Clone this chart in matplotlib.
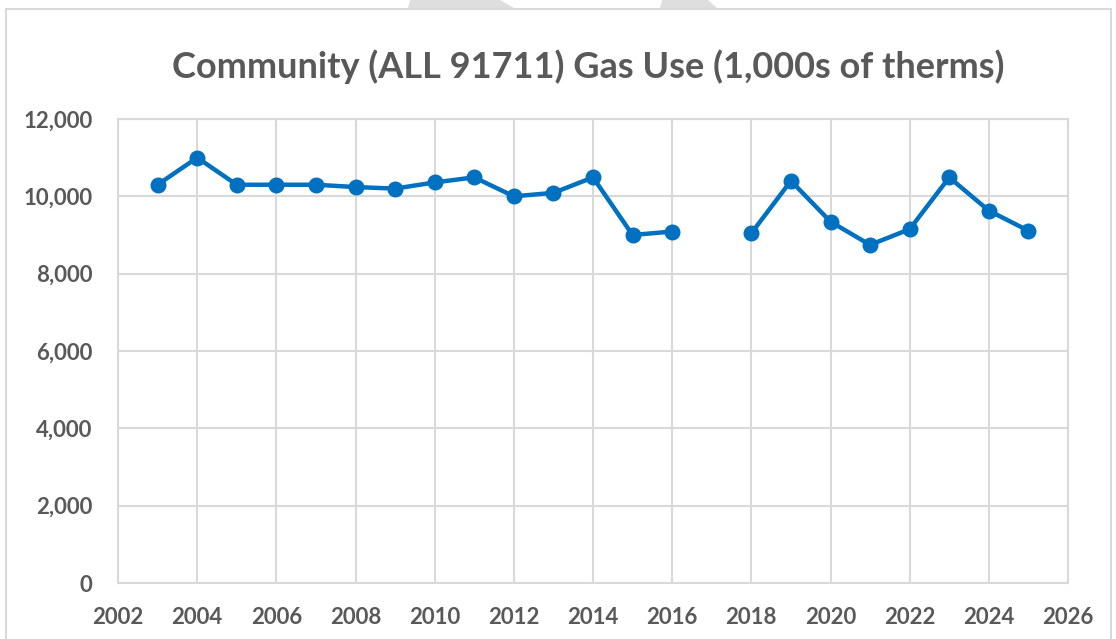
import matplotlib
matplotlib.use("Agg")
import matplotlib.pyplot as plt
from matplotlib.patches import Rectangle, Polygon
import matplotlib.ticker as mticker
import numpy as np

years_a = [2003, 2004, 2005, 2006, 2007, 2008, 2009, 2010, 2011, 2012, 2013, 2014, 2015, 2016]
use_a = [10300, 11000, 10300, 10300, 10300, 10240, 10200, 10360, 10490, 10000, 10090, 10490, 9000, 9090]
years_b = [2018, 2019, 2020, 2021, 2022, 2023, 2024, 2025]
use_b = [9045, 10400, 9345, 8745, 9150, 10490, 9630, 9110]

title = "Community (ALL 91711) Gas Use (1,000s of therms)"
x_ticks = list(range(2002, 2027, 2))
y_ticks = list(range(0, 12001, 2000))

plt.rcParams['font.family'] = ['Lato', 'DejaVu Sans']
text_color = '#595959'
grid_color = '#D9D9D9'
line_color = '#0070C0'

fig = plt.figure(figsize=(11.16, 6.39), dpi=100)
fig.patch.set_facecolor('white')

# faint watermark shapes at top
for pts in ([(410, 0), (500, 0), (514, 8), (408, 8)],
            [(662, 0), (708, 0), (717, 8), (660, 8)]):
    fig.patches.append(Polygon([(x/1116, 1 - y/639) for x, y in pts], closed=True,
                               transform=fig.transFigure, facecolor='#DEDEDE',
                               edgecolor='none'))
# outer chart border
fig.patches.append(Rectangle((6/1116, -0.05), (1111-6)/1116, (639-9)/639 + 0.05,
                             transform=fig.transFigure, fill=False,
                             edgecolor=grid_color, linewidth=1.5))

ax = fig.add_axes([118/1116, (639-583)/639, (1068-118)/1116, (583-119)/639])
ax.plot(years_a, use_a, color=line_color, linewidth=3.2, marker='o', markersize=10.5)
ax.plot(years_b, use_b, color=line_color, linewidth=3.2, marker='o', markersize=10.5)

ax.set_xlim(2002, 2026)
ax.set_ylim(0, 12000)
ax.set_xticks(x_ticks)
ax.set_yticks(y_ticks)
ax.yaxis.set_major_formatter(mticker.FuncFormatter(lambda v, p: f"{int(v):,}"))
ax.grid(True, color=grid_color, linewidth=1.5)
ax.set_axisbelow(True)
for s in ax.spines.values():
    s.set_color(grid_color)
    s.set_linewidth(1.5)
ax.tick_params(length=0, labelsize=16, labelcolor=text_color)
ax.tick_params(axis='y', pad=18.5)
ax.tick_params(axis='x', pad=17)
for lbl in ax.get_xticklabels() + ax.get_yticklabels():
    lbl.set_fontweight('bold')

fig.text(588/1116, 1 - 67/639, title, ha='center', va='center', fontsize=26,
         fontweight='bold', color=text_color)

fig.savefig('out.png', dpi=100)
